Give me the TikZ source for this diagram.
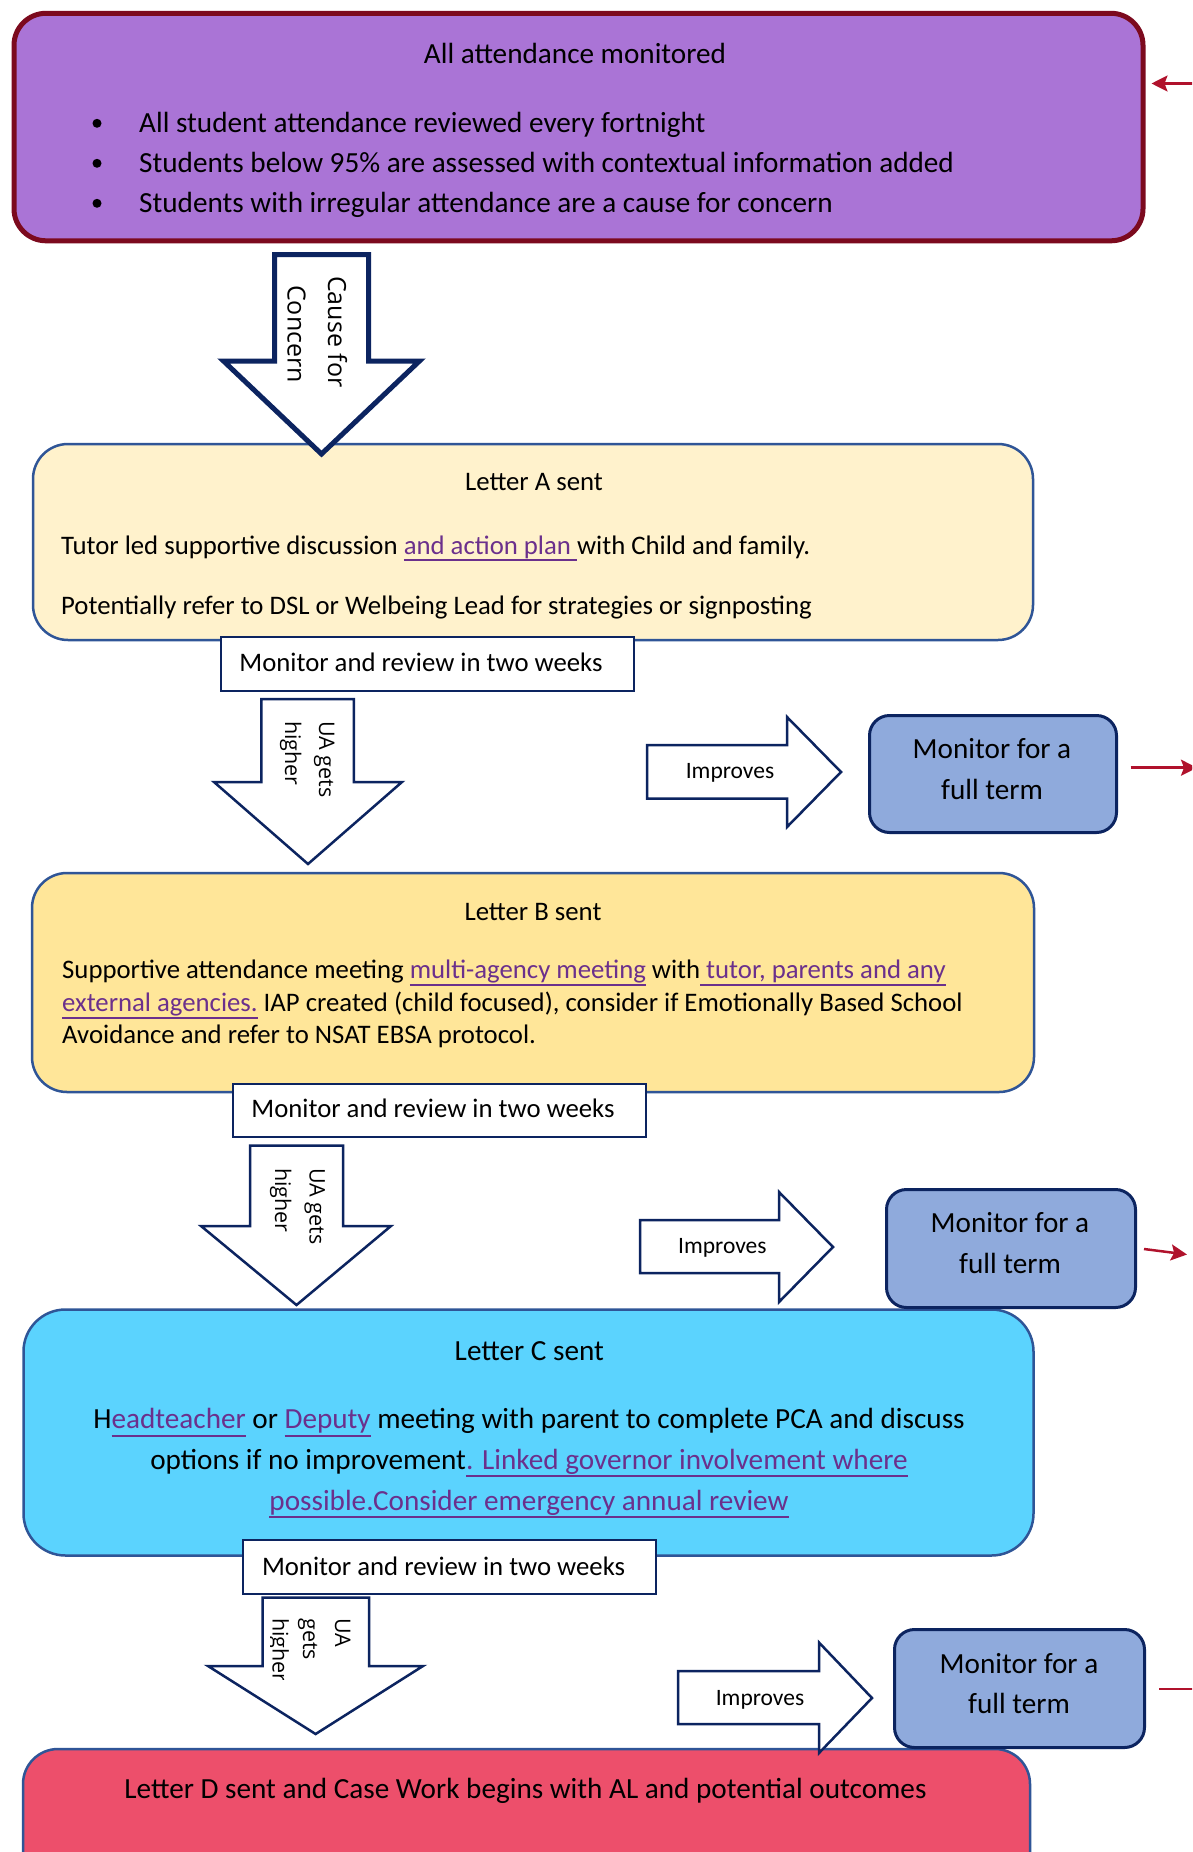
\documentclass[tikz,border=0pt]{standalone}
\usepackage{fontspec}
\setmainfont{Carlito}
\newfontfamily\segoe{Open Sans}
\usetikzlibrary{arrows.meta}
\definecolor{purplefill}{RGB}{170,116,214}
\definecolor{darkred}{RGB}{124,10,30}
\definecolor{lettera}{RGB}{255,242,204}
\definecolor{letterb}{RGB}{255,230,153}
\definecolor{letterc}{RGB}{91,211,254}
\definecolor{letterd}{RGB}{237,79,107}
\definecolor{monfill}{RGB}{143,170,220}
\definecolor{navy}{RGB}{12,36,96}
\definecolor{boxblue}{RGB}{47,85,151}
\definecolor{linkc}{RGB}{107,48,140}
\definecolor{redarrow}{RGB}{176,18,44}
\newcommand{\lnk}[1]{{\color{linkc}\setbox0\hbox{#1}\rlap{\rule[-0.28em]{\wd0}{0.075em}}\box0}}
\tikzset{
  letterbox/.style={draw=boxblue, line width=2.5pt, anchor=north west, inner sep=0pt, outer sep=0pt, rounded corners=35pt},
  mrbox/.style={draw=navy, line width=2.2pt, fill=white, anchor=north west, inner sep=0pt},
  monbox/.style={draw=navy, line width=3pt, fill=monfill, anchor=north west, inner sep=0pt, rounded corners=20pt},
  blockarrow/.style={draw=navy, line width=2.5pt, fill=white, line join=miter},
  tsmall/.style={inner sep=0pt, font=\fontsize{26.75}{32}\selectfont},
  tlarge/.style={inner sep=0pt, font=\fontsize{29.2}{40}\selectfont},
  timp/.style={inner sep=0pt, anchor=base, font=\fontsize{23.5}{28}\selectfont},
  rottxt/.style={inner sep=0pt, rotate=-90, anchor=base west, font=\segoe\fontsize{21.5}{28}\selectfont},
  rotbig/.style={inner sep=0pt, rotate=-90, anchor=base west, font=\segoe\fontsize{25}{34}\selectfont},
  redarr/.style={draw=redarrow, line width=2.5pt}
}
\begin{document}
\begin{tikzpicture}[x=1pt,y=-1pt]
\useasboundingbox (0,0) rectangle (1192,1852);
\fill[white] (0,0) rectangle (1192,1852);
\clip (0,0) rectangle (1192,1852);

% ---------- top box ----------
\node[draw=darkred, line width=5pt, fill=purplefill, rounded corners=32pt, anchor=north west,
      minimum width=1129pt, minimum height=227.5pt, inner sep=0pt] (top) at (11.5,10.8) {};
\node[tlarge, anchor=base] (t0) at (575,63.5) {All attendance monitored};
\fill (97,123.3) circle (4.5pt);
\fill (97,163.3) circle (4.5pt);
\fill (97,203.3) circle (4.5pt);
\node[tlarge, anchor=base west] (t1) at (139,132) {All student attendance reviewed every fortnight};
\node[tlarge, anchor=base west] (t2) at (139,172) {Students below 95\% are assessed with contextual information added};
\node[tlarge, anchor=base west] (t3) at (139,212) {Students with irregular attendance are a cause for concern};

% ---------- letter boxes ----------
\node[letterbox, fill=lettera, minimum width=1000pt, minimum height=196pt] (A) at (33,444) {};
\node[letterbox, fill=letterb, minimum width=1002pt, minimum height=219pt] (B) at (32,873) {};
\node[letterbox, fill=letterc, rounded corners=42pt, minimum width=1010pt, minimum height=246pt] (C) at (23.5,1309.5) {};
\node[letterbox, fill=letterd, minimum width=1007pt, minimum height=160pt] (D) at (23,1749) {};

% Letter A text
\node[tsmall, anchor=base] (Atitle) at (534,490) {Letter A sent};
\node[tsmall, anchor=base west] (A1) at (61,554) {Tutor led supportive discussion \lnk{and action plan }with Child and family.};
\node[tsmall, anchor=base west] (A2) at (61,614) {Potentially refer to DSL or Welbeing Lead for strategies or signposting};

% Letter B text
\node[tsmall, anchor=base] (Btitle) at (533,920) {Letter B sent};
\node[tsmall, anchor=base west] (B1) at (62,978.3) {Supportive attendance meeting \lnk{multi-agency meeting} with\lnk{ tutor, parents and any}};
\node[tsmall, anchor=base west] (B2) at (62,1011.7) {\lnk{external agencies.} IAP created (child focused), consider if Emotionally Based School};
\node[tsmall, anchor=base west] (B3) at (62,1043.3) {Avoidance and refer to NSAT EBSA protocol.};

% Letter C text
\node[tlarge, anchor=base] (Ctitle) at (529.3,1360) {Letter C sent};
\node[tlarge, anchor=base] (C1) at (529,1428.5) {H\lnk{eadteacher} or \lnk{Deputy} meeting with parent to complete PCA and discuss};
\node[tlarge, anchor=base] (C2) at (529,1469) {options if no improvement\lnk{. Linked governor involvement where}};
\node[tlarge, anchor=base] (C3) at (529,1510) {\lnk{possible.Consider emergency annual review}};

% Letter D text
\node[tlarge, anchor=base] (Dtext) at (525.5,1798) {Letter D sent and Case Work begins with AL and potential outcomes};

% ---------- monitor & review boxes ----------
\node[mrbox, minimum width=413pt, minimum height=54pt] (MR1) at (220,636) {};
\node[tsmall, anchor=base] (MR1t) at (421,671.7) {Monitor and review in two weeks};
\node[mrbox, minimum width=413pt, minimum height=53pt] (MR2) at (232,1083) {};
\node[tsmall, anchor=base] (MR2t) at (433,1117.7) {Monitor and review in two weeks};
\node[mrbox, minimum width=413pt, minimum height=54pt] (MR3) at (242,1539) {};
\node[tsmall, anchor=base] (MR3t) at (443.6,1575) {Monitor and review in two weeks};

% ---------- monitor for a full term ----------
\node[monbox, minimum width=247pt, minimum height=117pt] (M1) at (868,714) {};
\node[tlarge, anchor=base] (M1a) at (992,758) {Monitor for a};
\node[tlarge, anchor=base] (M1b) at (992,799) {full term};
\node[monbox, minimum width=249pt, minimum height=118pt] (M2) at (885,1188) {};
\node[tlarge, anchor=base] (M2a) at (1010,1232.7) {Monitor for a};
\node[tlarge, anchor=base] (M2b) at (1010,1273.3) {full term};
\node[monbox, minimum width=250pt, minimum height=118pt] (M3) at (893,1628) {};
\node[tlarge, anchor=base] (M3a) at (1019,1673) {Monitor for a};
\node[tlarge, anchor=base] (M3b) at (1019,1713.7) {full term};

% ---------- block arrows ----------
% Cause for concern
\draw[blockarrow, line width=5pt] (274.5,254.5) -- (368.5,254.5) -- (368.5,361) -- (419.5,361)
   -- (321.5,454) -- (223.5,361) -- (274.5,361) -- cycle;
\node[rotbig] (cc1) at (328,276) {Cause for};
\node[rotbig] (cc2) at (287.5,285) {Concern};

% UA gets higher 1
\draw[blockarrow] (261.25,699) -- (353.75,699) -- (353.75,782) -- (402,782) -- (308,864)
   -- (214,782) -- (261.25,782) -- cycle;
\node[rottxt] (u1a) at (319,721) {UA gets};
\node[rottxt] (u1b) at (285,721) {higher};

% UA gets higher 2
\draw[blockarrow] (250,1145.5) -- (343,1145.5) -- (343,1226) -- (391,1226) -- (296.5,1305)
   -- (201,1226) -- (250,1226) -- cycle;
\node[rottxt] (u2a) at (309.5,1168) {UA gets};
\node[rottxt] (u2b) at (275,1168) {higher};

% UA gets higher 3
\draw[blockarrow] (262.5,1597.5) -- (369,1597.5) -- (369,1666) -- (423,1666) -- (315.6,1734)
   -- (208,1666) -- (262.5,1666) -- cycle;
\begin{scope}
\clip (270,1600) rectangle (367,1679);
\node[rottxt] (u3a) at (335,1618) {UA};
\node[rottxt] (u3b) at (303,1618) {gets};
\node[rottxt] (u3c) at (272.5,1618) {higher};
\end{scope}

% Improves arrows
\draw[blockarrow] (647,745) -- (787,745) -- (787,717) -- (841,772) -- (787,827) -- (787,798.5) -- (647,798.5) -- cycle;
\node[timp] (i1) at (730,778) {Improves};
\draw[blockarrow] (640,1220) -- (779,1220) -- (779,1192) -- (833,1247) -- (779,1302) -- (779,1273) -- (640,1273) -- cycle;
\node[timp] (i2) at (722.4,1253) {Improves};
\draw[blockarrow] (678,1671) -- (819,1671) -- (819,1642.5) -- (872,1698) -- (819,1753) -- (819,1724) -- (678,1724) -- cycle;
\node[timp] (i3) at (760,1705.6) {Improves};

% ---------- red arrows ----------
\coordinate (r0) at (1194,83.5);
\draw[redarr, -{Stealth[length=16pt,width=16pt,inset=3pt]}, shorten >=6pt] (r0) -- (top.east |- r0);
\coordinate (r1) at (1197,767.7);
\draw[redarr, -{Stealth[length=16pt,width=16pt,inset=3pt]}, shorten <=12.5pt] (M1.east |- r1) -- (r1);
\coordinate (r2s) at (1144,1249);
\coordinate (r2) at (1187,1254.5);
\draw[redarr, -{Stealth[length=16pt,width=16pt,inset=3pt]}] (r2s) -- (r2);
\coordinate (r3) at (1195,1689);
\draw[redarr, shorten <=13pt] (M3.east |- r3) -- (r3);
\end{tikzpicture}
\end{document}
